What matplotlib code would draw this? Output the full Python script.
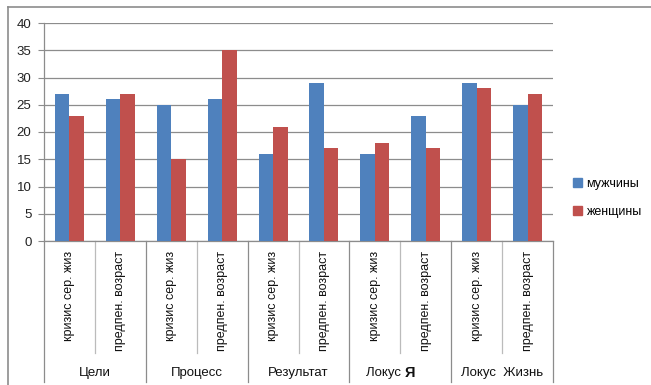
import numpy as np
import matplotlib.pyplot as plt
from matplotlib.lines import Line2D
from matplotlib.patches import Patch

plt.rcParams['font.family'] = ['Liberation Sans', 'DejaVu Sans']

groups = ["Цели", "Процесс", "Результат", "Локус Я", "Локус  Жизнь"]
subcats = ["кризис сер. жиз", "предпен. возраст"]
men = [27, 26, 25, 26, 16, 29, 16, 23, 29, 25]
women = [23, 27, 15, 35, 21, 17, 18, 17, 28, 27]
series_names = ["мужчины", "женщины"]
colors = ["#4F81BD", "#C0504D"]
grid_col = "#8C8C8C"

W, H = 651, 385
fig = plt.figure(figsize=(W / 100, H / 100), dpi=100)
# plot area in pixels: x 44..553, y 23..241 (from top)
ax = fig.add_axes([44 / W, (H - 241) / H, (553 - 44) / W, (241 - 23) / H])

n = len(men)
x = np.arange(n)
bw = 1 / 3.5
ax.bar(x - bw / 2, men, bw, color=colors[0], zorder=3)
ax.bar(x + bw / 2, women, bw, color=colors[1], zorder=3)

ax.set_xlim(-0.5, n - 0.5)
ax.set_ylim(0, 40)
ax.set_yticks(range(0, 41, 5))
ax.yaxis.grid(True, color=grid_col, lw=0.9, zorder=0)
ax.tick_params(axis='y', length=4, width=0.8, color=grid_col, labelsize=9.5, pad=5,
               labelcolor="#222222")
ax.set_xticks([])
for s in ["top", "right"]:
    ax.spines[s].set_visible(False)
for s in ["left", "bottom"]:
    ax.spines[s].set_color(grid_col)
    ax.spines[s].set_linewidth(0.9)

# two-level category axis
tr = ax.get_xaxis_transform()
to_ax = lambda py: (241 - py) / (241 - 23)
for b in np.arange(-0.5, n, 1.0):
    is_group = int(b + 0.5) % 2 == 0
    y_end = to_ax(382) if is_group else to_ax(353)
    ax.plot([b, b], [0, y_end], color=grid_col if is_group else "#BBBBBB",
            lw=0.9, transform=tr, clip_on=False)

for i in range(n):
    ax.text(i, to_ax(251), subcats[i % 2], rotation=90, ha='center', va='top',
            fontsize=9, transform=tr, color="#111111")

for g, name in enumerate(groups):
    cx = 2 * g + 0.5
    if name == "Локус Я":
        ax.text(cx + 0.08, to_ax(373), "Локус ", ha='right', va='center',
                fontsize=9.5, transform=tr, color="#111111")
        ax.text(cx + 0.08, to_ax(373), "Я", ha='left', va='center',
                fontsize=10.5, fontweight='bold', transform=tr, color="#111111")
    else:
        ax.text(cx, to_ax(373), name, ha='center', va='center', fontsize=9.5,
                transform=tr, color="#111111")

# chart frame (left and top edges)
fig.add_artist(Line2D([8 / W, 8 / W], [0, (H - 7) / H], color="#8C8C8C", lw=1.2))
fig.add_artist(Line2D([8 / W, 1], [(H - 7) / H, (H - 7) / H], color="#8C8C8C", lw=1.2))

handles = [Patch(color=c) for c in colors]
fig.legend(handles, series_names, loc='center left',
           bbox_to_anchor=(564 / W, (H - 198) / H), frameon=False,
           handlelength=0.7, handleheight=0.7, handletextpad=0.4,
           labelspacing=1.3, fontsize=9, borderaxespad=0.3)

fig.savefig("out.png", dpi=100)
